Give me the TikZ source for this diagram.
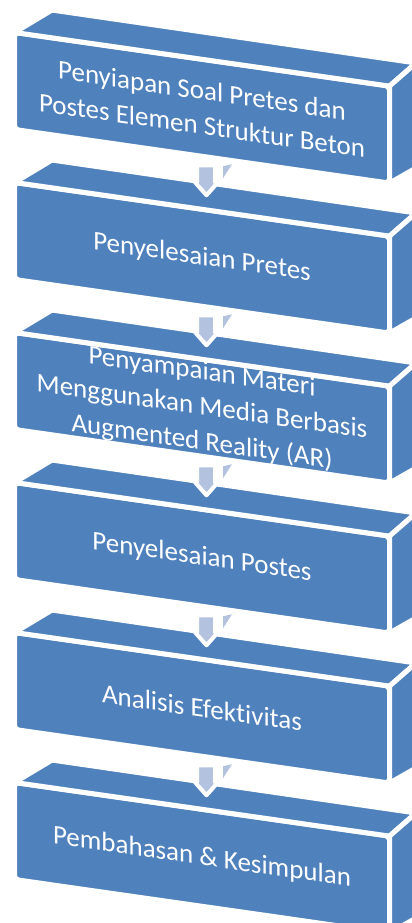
\documentclass[tikz,border=0pt]{standalone}
\usepackage{fontspec}
\setmainfont{Carlito}[Ligatures=CommonOff]
\usepackage{xcolor}
\definecolor{Steel}{HTML}{4F81BD}
\definecolor{Haze}{HTML}{B3C2DE}
\usepackage{tikz}
\usetikzlibrary{positioning}

\begin{document}
\begin{tikzpicture}[
  x=1pt,y=-1pt,
  font=\fontsize{27}{35}\selectfont,
  face/.style={fill=Steel,draw=white,line width=5pt,line join=round},
  front/.style={face,rounded corners=4pt,minimum width=375pt,minimum height=97pt,
    outer sep=0pt,inner sep=0pt,align=center,text=white},
  flowarrow/.style={fill=Haze,draw=white,line width=4pt,line join=round}
]
\useasboundingbox (0,0) rectangle (412,923);
\begin{scope}[yslant=-0.143,transform shape]
\node[front] (prep) at (202,78.9) {Penyiapan Soal Pretes dan\\Postes Elemen Struktur Beton};
\node[front,below=53pt of prep] (pretest) {Penyelesaian Pretes};
\node[front,below=53pt of pretest] (material) {Penyampaian Materi\\Menggunakan Media Berbasis\\Augmented Reality (AR)};
\node[front,below=53pt of material] (posttest) {Penyelesaian Postes};
\node[front,below=53pt of posttest] (analysis) {Analisis Efektivitas};
\node[front,below=53pt of analysis] (closing) {Pembahasan \& Kesimpulan};
% top and side of each block
\foreach \n in {prep,pretest,material,posttest,analysis,closing}{
  \draw[face,rounded corners=1pt] (\n.north east) -- ++(26.5,-26.9) -- ++(-364,-0.9) -- (\n.north west) -- cycle;
  \draw[face,rounded corners=1pt] (\n.north east) -- ++(26.5,-26.9) -- ++(0,105) -- (\n.south east) -- cycle;
}
\end{scope}
% block arrows
\foreach \n in {prep,pretest,material,posttest,analysis}{
  \draw[flowarrow] ([shift={(-5,9)}]\n.south) -- ++(18,0) -- ++(0,17) -- ++(3,0)
    -- ++(-11.5,13) -- ++(-11.5,-13) -- ++(2,0) -- cycle;
  \fill[Haze] ([shift={(21,10)}]\n.south) -- ++(9,-2) -- ++(-9,14) -- cycle;
}
\end{tikzpicture}
\end{document}
